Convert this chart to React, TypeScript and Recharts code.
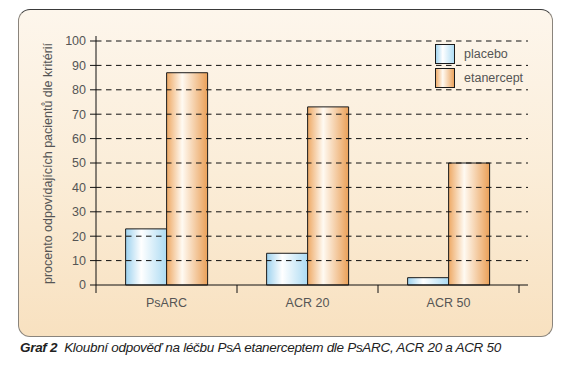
import { BarChart, Bar, XAxis, YAxis, ReferenceLine, Legend } from "recharts";

const categories = ["PsARC", "ACR 20", "ACR 50"];
const placebo = [23, 13, 3];
const etanercept = [87, 73, 50];
const yTicks = [0, 10, 20, 30, 40, 50, 60, 70, 80, 90, 100];

const seriesNames = { placebo: "placebo", etanercept: "etanercept" };
const yTitle = "procento odpovídajících pacientů dle kritérií";
const caption = "Kloubní odpověď na léčbu PsA etanerceptem dle PsARC, ACR 20 a ACR 50";

const data = categories.map((name, i) => ({
  name,
  placebo: placebo[i],
  etanercept: etanercept[i],
}));

const FONT = "'Liberation Sans', Arial, Helvetica, sans-serif";
const TEXT = "#555";
const TICK_SIZE = 8;
const TICK_MARGIN = 5;

function Gradients({ prefix }: { prefix: string }) {
  return (
    <defs>
      <linearGradient id={prefix + "blue"} x1="0" y1="0" x2="1" y2="0">
        <stop offset="0%" stopColor="#9dd2ef" />
        <stop offset="38%" stopColor="#ffffff" />
        <stop offset="100%" stopColor="#acdbf3" />
      </linearGradient>
      <linearGradient id={prefix + "orange"} x1="0" y1="0" x2="1" y2="0">
        <stop offset="0%" stopColor="#eea965" />
        <stop offset="38%" stopColor="#fffaf2" />
        <stop offset="100%" stopColor="#eaa058" />
      </linearGradient>
    </defs>
  );
}

function CategoryTick(props: any) {
  const { x, y, payload, index } = props;
  const half = payload.offset ?? 0;
  const top = y - TICK_SIZE - TICK_MARGIN;
  return (
    <g>
      <line x1={x - half} x2={x - half} y1={top} y2={top + TICK_SIZE} stroke="#111" />
      {index === categories.length - 1 && (
        <line x1={x + half} x2={x + half} y1={top} y2={top + TICK_SIZE} stroke="#111" />
      )}
      <text x={x} y={y} dy="0.71em" textAnchor="middle" fill={TEXT} fontSize={12.5} fontFamily={FONT}>
        {payload.value}
      </text>
    </g>
  );
}

function YTitle(props: any) {
  const vb = props.viewBox;
  const cx = vb.x + 8;
  const cy = vb.y + vb.height / 2 + 3;
  return (
    <text
      x={cx}
      y={cy}
      transform={`rotate(-90, ${cx}, ${cy})`}
      textAnchor="middle"
      dominantBaseline="central"
      fill={TEXT}
      fontSize={12.5}
      fontFamily={FONT}
    >
      {yTitle}
    </text>
  );
}

function LegendBox() {
  const rows = [
    { label: seriesNames.placebo, fill: "url(#lgblue)" },
    { label: seriesNames.etanercept, fill: "url(#lgorange)" },
  ];
  return (
    <div style={{ fontFamily: FONT, fontSize: 12.5, color: TEXT }}>
      <svg width={0} height={0} style={{ position: "absolute" }}>
        <Gradients prefix="lg" />
      </svg>
      {rows.map((r) => (
        <div key={r.label} style={{ display: "flex", alignItems: "center", height: 24 }}>
          <svg width={21} height={21} style={{ display: "block" }}>
            <rect x={0.5} y={0.5} width={19} height={19} fill={r.fill} stroke="#1a1a1a" />
          </svg>
          <span style={{ marginLeft: 8 }}>{r.label}</span>
        </div>
      ))}
    </div>
  );
}

export default function App() {
  return (
    <div style={{ position: "absolute", left: 0, top: 0, width: 581, height: 372, background: "#fff" }}>
      <div
        style={{
          position: "absolute",
          left: 18,
          top: 9,
          width: 533,
          height: 326,
          borderRadius: 12,
          border: "1px solid #8a847c",
          borderTopColor: "#3a3a3a",
          background: "linear-gradient(to bottom, #fdf6ec 0%, #fbedd8 50%, #f8e1c0 100%)",
        }}
      />
      <div style={{ position: "absolute", left: 0, top: 0 }}>
        <BarChart
          width={581}
          height={372}
          data={data}
          margin={{ top: 36, right: 53, bottom: 57, left: 40 }}
          barCategoryGap="21%"
          barGap={0}
        >
          <Gradients prefix="bar" />
          {yTicks
            .filter((t) => t > 0)
            .map((t) => (
              <ReferenceLine key={t} y={t} stroke="#111" strokeDasharray="5.5 4.5" />
            ))}
          <XAxis
            dataKey="name"
            axisLine={{ stroke: "#111" }}
            tickLine={false}
            tickSize={TICK_SIZE}
            tickMargin={TICK_MARGIN}
            padding={{ left: 0, right: 9 }}
            tick={<CategoryTick />}
            interval={0}
          />
          <YAxis
            domain={[0, 100]}
            ticks={yTicks}
            width={56}
            padding={{ top: 5, bottom: 0 }}
            axisLine={{ stroke: "#111" }}
            tickLine={{ stroke: "#111" }}
            tickSize={6}
            tickMargin={4}
            tick={{ fill: TEXT, fontSize: 12.5, fontFamily: FONT }}
            label={{ content: <YTitle /> }}
          />
          <Legend
            layout="vertical"
            align="center"
            verticalAlign="middle"
            wrapperStyle={{ left: 435, top: 42, width: 110 }}
            content={() => <LegendBox />}
          />
          <Bar
            dataKey="placebo"
            name={seriesNames.placebo}
            fill="url(#barblue)"
            stroke="#1a1a1a"
            strokeWidth={1}
            isAnimationActive={false}
          />
          <Bar
            dataKey="etanercept"
            name={seriesNames.etanercept}
            fill="url(#barorange)"
            stroke="#1a1a1a"
            strokeWidth={1}
            isAnimationActive={false}
          />
        </BarChart>
      </div>
      <div
        style={{
          position: "absolute",
          left: 20,
          top: 340,
          fontFamily: FONT,
          fontSize: 13.5,
          lineHeight: "16px",
          fontStyle: "italic",
          letterSpacing: "-0.3px",
          color: "#222",
          whiteSpace: "nowrap",
        }}
      >
        <b>Graf 2</b>&nbsp;&nbsp;{caption}
      </div>
    </div>
  );
}
